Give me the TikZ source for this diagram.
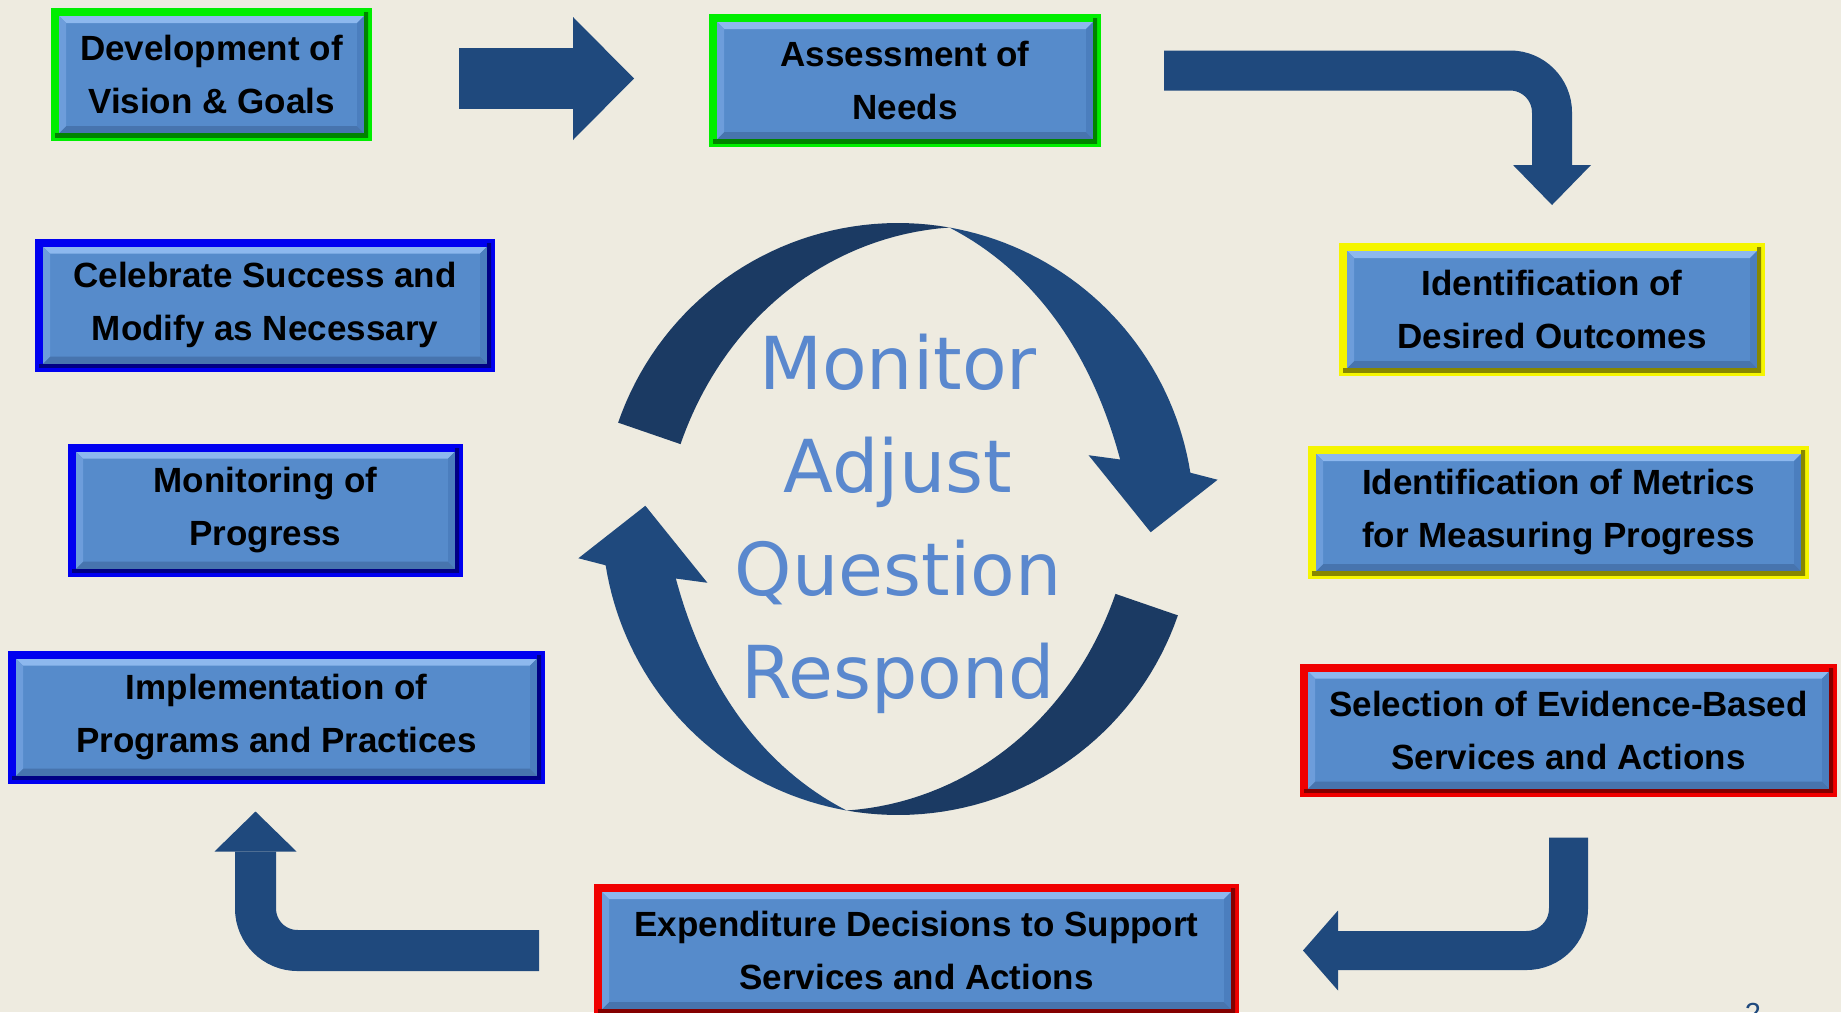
\documentclass[tikz,border=0pt]{standalone}
\usepackage{fontspec}
\usepackage{tikz}
\usetikzlibrary{positioning, arrows.meta}

\newfontfamily\boxfont{Liberation Sans}
\newfontfamily\cyclefont{DejaVu Sans}

\definecolor{bgbeige}{HTML}{EEEBE0}
\definecolor{arrowblue}{HTML}{1F497D}
\definecolor{cycledark}{HTML}{1B3A63}
\definecolor{boxblue}{HTML}{568BCB}
\definecolor{boxlight}{HTML}{8DB8EE}
\definecolor{boxside}{HTML}{6D9DDB}
\definecolor{boxdark}{HTML}{4774AE}
\definecolor{boxshade}{HTML}{4B7EBE}
\definecolor{wordblue}{HTML}{5A88CE}
\definecolor{edgegreen}{HTML}{00EE00}
\definecolor{edgeblue}{HTML}{0000F0}
\definecolor{edgeyellow}{HTML}{F5F500}
\definecolor{edgered}{HTML}{F00000}

\tikzset{
  stepbox/.style={rectangle, draw=#1, line width=4pt, fill=boxblue,
    minimum height=62.5pt, inner sep=0pt, align=center,
    font=\boxfont\bfseries\fontsize{17.5}{26.5}\selectfont,
    path picture={
      \path (path picture bounding box.north west) coordinate (pnw)
            (path picture bounding box.north east) coordinate (pne)
            (path picture bounding box.south west) coordinate (psw)
            (path picture bounding box.south east) coordinate (pse);
      \fill[boxlight] (pnw) -- (pne) -- ([shift={(-5.5pt,-5.5pt)}]pne) -- ([shift={(5.5pt,-5.5pt)}]pnw) -- cycle;
      \fill[boxdark] (psw) -- (pse) -- ([shift={(-5.5pt,5.5pt)}]pse) -- ([shift={(5.5pt,5.5pt)}]psw) -- cycle;
      \fill[boxside] (pnw) -- (psw) -- ([shift={(5.5pt,5.5pt)}]psw) -- ([shift={(5.5pt,-5.5pt)}]pnw) -- cycle;
      \fill[boxshade] (pne) -- (pse) -- ([shift={(-5.5pt,5.5pt)}]pse) -- ([shift={(-5.5pt,-5.5pt)}]pne) -- cycle;
    },
    postaction={path picture={
      \draw[#1!55!black, line width=4pt] (path picture bounding box.south west)
        -- (path picture bounding box.south east) -- (path picture bounding box.north east);
    }}},
  flowarrow/.style={draw=arrowblue, line width=#1, rounded corners=21pt},
  cycletext/.style={align=center, inner sep=0pt, text=wordblue,
    font=\cyclefont\fontsize{36.5}{51.5}\selectfont},
}

\begin{document}
\begin{tikzpicture}[x=0.5pt, y=-0.5pt]
% page
\useasboundingbox (0,0) rectangle (1841,1012);
\fill[bgbeige] (0,0) rectangle (1841,1012);

% Cycle in the middle
\foreach \rot in {0,180}{
  \begin{scope}[shift={(898,519)}, rotate=\rot]
    \fill[cycledark] plot[domain=-161:-80, samples=40] (\x:296)
      -- plot[domain=-80:-161, samples=40] (\x:{296-66*sin((-80-(\x))/81*90)}) -- cycle;
    \fill[arrowblue] plot[domain=-80:-9, samples=40] (\x:296)
      -- (-7:322) -- (3:253) -- (-18.5:201) -- (-15:230)
      -- plot[domain=-15:-80, samples=40] (\x:{296-66*sin(((\x)+80)/65*90)}) -- cycle;
  \end{scope}
}
\node[cycletext] (mard) at (898,524) {Monitor\\Adjust\\Question\\Respond};

% Steps
\node[stepbox=edgegreen, minimum width=156.5pt] (dev) at (211.5,74.5) {Development of\\Vision \& Goals};
\node[stepbox=edgegreen, minimum width=192pt] (assess) at (905,80.5) {Assessment of\\Needs};
\node[stepbox=edgeyellow, minimum width=209pt] (outc) at (1552,309.5) {Identification of\\Desired Outcomes};
\node[stepbox=edgeyellow, minimum width=246.5pt] (metr) at (1558.5,512.5) {Identification of Metrics\\for Measuring Progress};
\node[stepbox=edgered, minimum width=264.5pt] (sel) at (1568.5,730) {Selection of Evidence-Based\\Services and Actions};
\node[stepbox=edgered, minimum width=318.5pt] (expd) at (916.5,950.5) {Expenditure Decisions to Support\\Services and Actions};
\node[stepbox=edgeblue, minimum width=264.5pt] (impl) at (276.5,717) {Implementation of\\Programs and Practices};
\node[stepbox=edgeblue, minimum width=193.5pt] (monit) at (265.5,510) {Monitoring of\\Progress};
\node[stepbox=edgeblue, minimum width=226pt] (celeb) at (265,305) {Celebrate Success and\\Modify as Necessary};

% Flow arrows
\draw[flowarrow=30.5pt, -{Triangle[length=30.5pt, width=61.5pt, line width=0pt]},
  shorten <=43.5pt, shorten >=37.5pt] ([yshift=-2pt]dev.east) -- ([yshift=-2pt]dev.east -| assess.west);
\draw[flowarrow=20pt, -{Triangle[length=20pt, width=39pt, line width=0pt]},
  shorten <=31.5pt, shorten >=19pt] ([yshift=5pt]assess.east) -| (outc.north);
\draw[flowarrow=19.5pt, -{Triangle[length=17.5pt, width=40pt, line width=0pt]},
  shorten <=20.5pt, shorten >=32pt] (sel.south) |- (expd.east);
\draw[flowarrow=20.5pt, -{Triangle[length=20pt, width=41pt, line width=0pt]},
  shorten <=27.5pt, shorten >=14pt] (expd.west) -| ([xshift=-10.5pt]impl.south);

% slide number
\node[anchor=north, inner sep=0pt, text=arrowblue, font=\boxfont\fontsize{14.5}{17}\selectfont] (pageno) at (1753,1003) {2};
\end{tikzpicture}
\end{document}
